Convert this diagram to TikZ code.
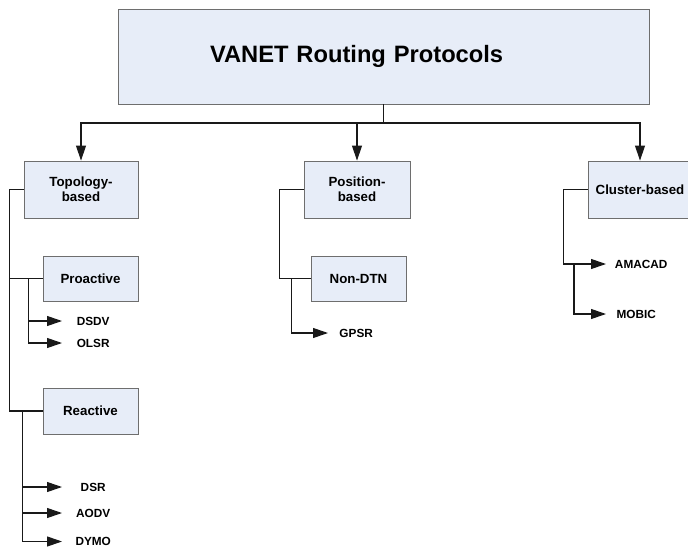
\documentclass[tikz,border=0pt]{standalone}
\usepackage{fontspec}
\setmainfont{Liberation Sans}
\usepackage{tikz}
\usetikzlibrary{arrows.meta,positioning}
\definecolor{boxfill}{RGB}{231,237,248}
\definecolor{boxline}{RGB}{110,110,110}
\definecolor{linkcol}{RGB}{25,25,25}

\begin{document}
\begin{tikzpicture}[x=1pt,y=-1pt,
  catbox/.style={draw=boxline,fill=boxfill,line width=0.9pt,font=\fontsize{13.3}{15}\selectfont\bfseries,
    align=center,inner sep=0pt},
  leaf/.style={anchor=west,minimum width=62pt,inner sep=0pt,font=\fontsize{11.8}{13}\selectfont\bfseries},
  link/.style={draw=linkcol,line width=1.1pt},
  arr/.style={link,-{Triangle[length=15pt,width=10pt]}}]
  \useasboundingbox (0,0) rectangle (688,549);

  % --- root -------------------------------------------------------------
  \node[catbox,minimum width=531pt,minimum height=95pt,text width=347pt,align=left,
    inner xsep=92pt,font=\fontsize{23.7}{26}\selectfont\bfseries] (root) at (383.5,56.5)
    {VANET Routing Protocols\\[4pt]};
  \coordinate (hub) at (383.5,123);
  \draw[link] (root.south) -- (hub);

  % --- three families ---------------------------------------------------
  \node[catbox,minimum width=114pt,minimum height=57pt] (topo) at (81,189.5) {Topology-\\based};
  \node[catbox,minimum width=106pt,minimum height=57pt] (pos) at (357,189.5) {Position-\\based};
  \node[catbox,minimum width=104pt,minimum height=57pt] (clu) at (640,189.5) {Cluster-based};
  \draw[arr] (hub) -| (topo.north);
  \draw[arr] (hub) -| (pos.north);
  \draw[arr] (hub) -| (clu.north);

  % --- LEFT: topology-based ---------------------------------------------
  \node[catbox,minimum width=95pt,minimum height=45pt] (pro) at (90.5,278.5) {Proactive};
  \node[catbox,minimum width=95pt,minimum height=46pt] (rea) at (90.5,411) {Reactive};
  \draw[link] (topo.west) -- ++(-14,0) |- (pro.west);
  \draw[link] (topo.west) -- ++(-14,0) |- (rea.west);
  \node[leaf] (dsdv) at (62,321) {DSDV};
  \node[leaf] (olsr) at (62,343) {OLSR};
  \draw[arr] ([xshift=-14pt]pro.west) |- (dsdv.west);
  \draw[arr] ([xshift=-14pt]pro.west) |- (olsr.west);
  \node[leaf] (dsr) at (62,487) {DSR};
  \node[leaf] (aodv) at (62,513) {AODV};
  \node[leaf] (dymo) at (62,541.5) {DYMO};
  \draw[arr] ([xshift=-20pt]rea.west) |- (dsr.west);
  \draw[arr] ([xshift=-20pt]rea.west) |- (aodv.west);
  \draw[arr] ([xshift=-20pt]rea.west) |- (dymo.west);

  % --- MIDDLE: position-based -------------------------------------------
  \node[catbox,minimum width=95pt,minimum height=45pt] (ndtn) at (358.5,278.5) {Non-DTN};
  \draw[link] (pos.west) -- ++(-24,0) |- (ndtn.west);
  \node[leaf,minimum width=56pt] (gpsr) at (328,333) {GPSR};
  \draw[arr] ([xshift=-19pt]ndtn.west) |- (gpsr.west);

  % --- RIGHT: cluster-based ---------------------------------------------
  \node[leaf,minimum width=70pt] (amacad) at (606,264) {AMACAD};
  \node[leaf,minimum width=60pt] (mobic) at (606,314) {MOBIC};
  \draw[arr] (clu.west) -- ++(-24,0) |- (amacad.west);
  \draw[arr] ([xshift=-32pt]amacad.west) |- (mobic.west);
\end{tikzpicture}
\end{document}
